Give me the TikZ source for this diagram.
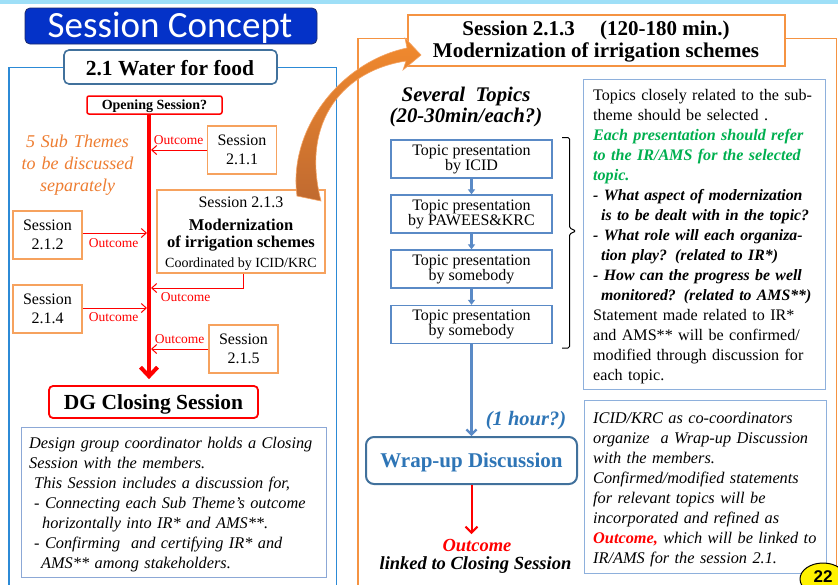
\documentclass[tikz,border=0pt]{standalone}
\usepackage{fontspec}
\setmainfont{Liberation Serif}
\newfontfamily\carl{Carlito}
\newfontfamily\lsans{Liberation Sans}
\usetikzlibrary{arrows.meta,shapes.geometric}
\definecolor{topbar}{HTML}{9EDFF7}
\definecolor{scFill}{HTML}{0432C8}
\definecolor{scB}{HTML}{1C2A6B}
\definecolor{leftB}{HTML}{2C8AD6}
\definecolor{waterB}{HTML}{41719C}
\definecolor{orangeB}{HTML}{F6A25E}
\definecolor{orangeF}{HTML}{F59342}
\definecolor{subOr}{HTML}{EE7D31}
\definecolor{topicB}{HTML}{5A8AC6}
\definecolor{descB}{HTML}{8EB0DC}
\definecolor{ldescB}{HTML}{8CA8D6}
\definecolor{grn}{HTML}{00B050}
\definecolor{blueT}{HTML}{2E75B6}
\definecolor{wuB}{HTML}{41719C}
\definecolor{arrTop}{HTML}{F28A2E}
\definecolor{arrBot}{HTML}{C06A30}
\definecolor{arrEdge}{HTML}{F4A261}
\newcommand{\fsz}[2]{\fontsize{#1}{#2}\selectfont}
\begin{document}
\begin{tikzpicture}[x=1pt,y=-1pt,
  sessbox/.style={draw=orangeB,line width=1.1pt,fill=white,minimum width=69pt,minimum height=48pt,inner sep=0pt,align=center,font=\fsz{16}{19}},
  outc/.style={text=red,inner sep=0pt,font=\fsz{13.5}{14}},
  oarr/.style={draw=red,line width=1pt,-{Straight Barb[length=5pt,width=9pt]}},
  topicbox/.style={draw=topicB,line width=1.3pt,fill=white,minimum width=161pt,minimum height=38pt,inner sep=0pt,align=center,font=\fsz{16}{15}},
  barr/.style={draw=topicB,line width=2.2pt,-{Triangle[length=5pt,width=7pt]}},
  descbox/.style={draw=descB,line width=1pt,fill=white,inner sep=0pt},
  para/.style={anchor=base west,inner sep=0pt,align=left,text width=300pt},
  basetxt/.style={anchor=base,inner sep=0pt},
]
\useasboundingbox (0,0) rectangle (838,584);
\fill[white] (0,0) rectangle (838,584);
\fill[topbar] (0,0) rectangle (838,3.5);

% frames
\draw[leftB,line width=1.5pt] (9,67.5) rectangle (336.5,600);
\draw[orangeF,line width=1.6pt] (358,38.5) rectangle (836.5,600);

% title
\node[draw=scB,line width=0.8pt,fill=scFill,rounded corners=5pt,minimum width=292pt,minimum height=36pt,inner sep=0pt] (sc) at (171,26) {};
\node[basetxt,text=white,font=\carl\fsz{37}{37}] (sct) at (170,37) {Session Concept};

% left panel
\node[draw=waterB,line width=1.6pt,fill=white,rounded corners=5pt,minimum width=213pt,minimum height=34pt,inner sep=0pt] (wf) at (170.5,67) {};
\node[basetxt,font=\bfseries\fsz{21.5}{21.5}] (wft) at (170,75.5) {2.1 Water for food};
\node[draw=red,line width=1.5pt,fill=white,rounded corners=2pt,minimum width=135pt,minimum height=18pt,inner sep=0pt,text depth=0pt,font=\bfseries\fsz{14}{14}] (op) at (154.5,105) {Opening Session?};
\node[draw=red,line width=1.8pt,fill=white,rounded corners=4pt,minimum width=209pt,minimum height=32pt,inner sep=0pt,text depth=0pt,font=\bfseries\fsz{21.5}{21.5}] (dg) at (153.5,402) {DG Closing Session};

\coordinate (redx) at (149,0);
\draw[red,line width=4pt,-{Straight Barb[length=9pt,width=17pt]}] (op.south -| redx) -- ([yshift=6pt]dg.north -| redx);

\node[text=subOr,anchor=base,inner sep=0pt,text width=140pt,align=center,font=\itshape\fsz{18}{22}] (sub) at (77.5,147) {5 Sub Themes\\to be discussed\\separately};

\node[sessbox] (s211) at (242,150) {Session\\2.1.1};
\node[sessbox] (s212) at (47.5,235) {Session\\2.1.2};
\node[sessbox] (s214) at (47.5,309) {Session\\2.1.4};
\node[sessbox] (s215) at (243.5,349) {Session\\2.1.5};
\node[sessbox,minimum width=168pt,minimum height=83pt] (s213) at (241,231.5) {};
\node[basetxt,font=\fsz{16}{16}] (s213a) at (241,207) {Session 2.1.3};
\node[basetxt,font=\bfseries\fsz{16.5}{16.5}] (s213b) at (241,230) {Modernization};
\node[basetxt,font=\bfseries\fsz{16.5}{16.5}] (s213c) at (241,247) {of irrigation\ schemes};
\node[basetxt,font=\fsz{14}{14}] (s213d) at (241,267) {Coordinated by ICID/KRC};

\coordinate (r1) at (151,150);
\coordinate (r2) at (147,233);
\coordinate (r3) at (151,288);
\coordinate (r4) at (147,308);
\coordinate (r5) at (151,349);
\draw[oarr] (s211.west |- r1) -- (r1);
\draw[oarr] (s212.east |- r2) -- (r2);
\draw[oarr] ([xshift=2pt]s213.south) |- (r3);
\draw[oarr] (s214.east |- r4) -- (r4);
\draw[oarr] (s215.west |- r5) -- (r5);
\node[outc] (l1) at (178.5,140.5) {Outcome};
\node[outc] (l2) at (113.5,243) {Outcome};
\node[outc] (l3) at (185.5,297) {Outcome};
\node[outc] (l4) at (113.5,317.5) {Outcome};
\node[outc] (l5) at (179.5,339) {Outcome};

\node[draw=ldescB,line width=1pt,fill=white,minimum width=305pt,minimum height=150pt,inner sep=0pt] (ld) at (173.5,502) {};
\node[para,font=\itshape\fsz{16.3}{20}] (ldt) at (29,448) {Design group coordinator holds a Closing\\
Session with the members.\\
\hspace*{5pt}This Session includes a discussion for,\\
\hspace*{5pt}- Connecting each Sub Theme’s outcome\\
\hspace*{13pt}horizontally into IR* and AMS**.\\
\hspace*{5pt}- Confirming\ \ and certifying IR* and\\
\hspace*{12pt}AMS** among stakeholders.};

% right panel
\node[draw=orangeF,line width=1.8pt,fill=white,minimum width=377pt,minimum height=51pt,inner sep=0pt] (hd) at (596.5,40.5) {};
\node[basetxt,font=\bfseries\fsz{21}{21}] (hd1) at (596,35) {Session 2.1.3\hspace{1.2em}(120-180 min.)};
\node[basetxt,font=\bfseries\fsz{21}{21}] (hd2) at (596,57) {Modernization of irrigation schemes};

\node[basetxt,font=\bfseries\itshape\fsz{20.8}{20.8}] (st1) at (466,101) {Several\ \ Topics};
\node[basetxt,font=\bfseries\itshape\fsz{20.8}{20.8}] (st2) at (466,122) {(20-30min/each?)};

\node[topicbox] (t1) at (471.5,159) {Topic presentation\\by ICID};
\node[topicbox] (t2) at (471.5,214) {Topic presentation\\by PAWEES\&KRC};
\node[topicbox] (t3) at (471.5,269) {Topic presentation\\by somebody};
\node[topicbox] (t4) at (471.5,324.5) {Topic presentation\\by somebody};
\draw[barr] (t1) -- (t2);
\draw[barr] (t2) -- (t3);
\draw[barr] (t3) -- (t4);

\node[draw=wuB,line width=2pt,fill=white,rounded corners=8pt,minimum width=211pt,minimum height=47pt,inner sep=0pt,text depth=0pt,text=blueT,font=\bfseries\fsz{21}{21}] (wu) at (471.5,460.5) {Wrap-up Discussion};
\draw[draw=topicB,line width=2.2pt,-{Straight Barb[length=5pt,width=10pt]}] (t4) -- (wu);
\node[basetxt,text=blueT,font=\bfseries\itshape\fsz{20.5}{20.5}] (hr) at (526,425) {(1 hour?)};

\coordinate (tipR) at (471.5,534);
\draw[red,line width=2pt,-{Straight Barb[length=6pt,width=12pt]}] (wu) -- (tipR);
\node[basetxt,text=red,font=\bfseries\itshape\fsz{18.5}{18.5}] (oc) at (477,551) {Outcome};
\node[basetxt,font=\bfseries\itshape\fsz{18.5}{18.5}] (lk) at (475.5,569) {linked to Closing Session};

\draw[line width=1pt,rounded corners=1.5pt] (562,137.5) -- (569.5,137.5) -- (569.5,228) -- (576,231) -- (569.5,234) -- (569.5,348) -- (562,348);

\node[descbox,minimum width=242pt,minimum height=310pt] (d1) at (704,234) {};
\node[para,font=\fsz{16.1}{20}] (d1t) at (593,100) {Topics closely related to the sub-\\
theme should be selected .\\
{\color{grn}\bfseries\itshape Each presentation should refer}\\
{\color{grn}\bfseries\itshape to the IR/AMS for the selected}\\
{\color{grn}\bfseries\itshape topic.}\\
{\bfseries\itshape\fontsize{15.8}{20}\selectfont - What aspect of modernization}\\
{\bfseries\itshape\fontsize{15.8}{20}\selectfont \hspace*{8pt}is to be dealt with in the topic?}\\
{\bfseries\itshape\fontsize{15.8}{20}\selectfont - What role will each organiza-}\\
{\bfseries\itshape\fontsize{15.8}{20}\selectfont \hspace*{8pt}tion play? (related to IR*)}\\
{\bfseries\itshape\fontsize{15.8}{20}\selectfont - How can the progress be well}\\
{\bfseries\itshape\fontsize{15.8}{20}\selectfont \hspace*{8pt}monitored? (related to AMS**)}\\
Statement made related to IR*\\
and AMS** will be confirmed/\\
modified through discussion for\\
each topic.};

\node[descbox,minimum width=242pt,minimum height=173pt] (d2) at (705,486.5) {};
\node[para,font=\itshape\fsz{16.3}{20}] (d2t) at (593,423) {ICID/KRC as co-coordinators\\
organize\ \ a Wrap-up Discussion\\
with the members.\\
Confirmed/modified statements\\
for relevant topics will be\\
incorporated and refined as\\
{\color{red}\bfseries Outcome,} which will be linked to\\
IR/AMS for the session 2.1.};

% big orange arrow
\path[top color=arrTop,bottom color=arrBot,draw=arrEdge,line width=0.6pt]
  (297,196) .. controls (288,130) and (340,62) .. (407,48)
  -- (405,38) -- (421,55) -- (403,70) -- (406,61)
  .. controls (345,70) and (300,120) .. (321,201) -- cycle;

% page number
\node[ellipse,draw=black,line width=1pt,fill=yellow,minimum width=46pt,minimum height=32pt,inner sep=0pt] (pg) at (823,579) {};
\node[basetxt,font=\lsans\bfseries\fsz{17}{17}] (pgt) at (823,582) {22};
\end{tikzpicture}
\end{document}
